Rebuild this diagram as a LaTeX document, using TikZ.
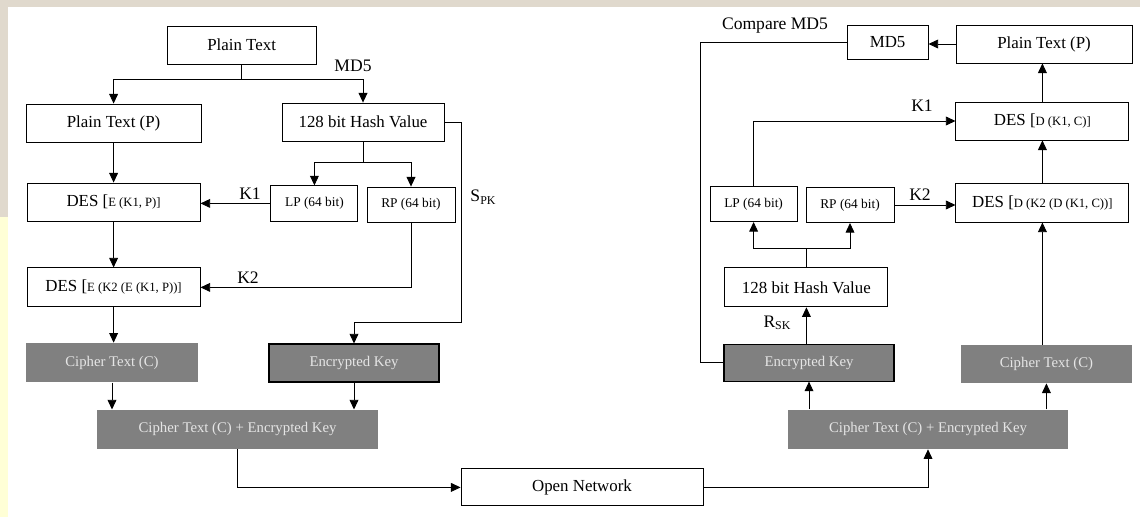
\documentclass[tikz,border=0pt]{standalone}
\usepackage{fontspec}
\setmainfont{Liberation Serif}
\usetikzlibrary{arrows.meta, positioning, calc}

\definecolor{boxgray}{RGB}{128,128,128}
\definecolor{paper}{RGB}{224,217,205}
\definecolor{pale}{RGB}{255,255,214}

\newcommand{\keyarg}[1]{{\fontsize{9}{10}\selectfont #1}}
\newcommand{\lowsub}[1]{\raisebox{-0.3ex}{\fontsize{8.5}{9}\selectfont #1}}

\begin{document}
\begin{tikzpicture}[
    block/.style={rectangle, draw, line width=0.6pt, minimum height=0.95cm, inner sep=0pt, align=center, font=\fontsize{12}{14}\selectfont},
    shaded/.style={block, draw=none, fill=boxgray, text=white!90!black, font=\fontsize{10.5}{12}\selectfont},
    keybox/.style={shaded, draw=black, line width=0.75pt},
    half/.style={block, minimum height=0.88cm, font=\fontsize{9.5}{11}\selectfont},
    tag/.style={font=\fontsize{12.5}{14}\selectfont},
    arrow/.style={-{Triangle[length=2.4mm, width=2.2mm]}, line width=0.6pt}
]

% Page
\fill[white] (0,0) rectangle (28.5,12.925);
\fill[paper] (0,12.75) rectangle (28.5,12.925);
\fill[paper] (0,7.5) rectangle (0.2,12.925);
\fill[pale] (0,0) rectangle (0.2,7.5);
\useasboundingbox (0,0) rectangle (28.5,12.925);

% Sender blocks
\node[block, minimum width=3.725cm] (plain) at (6.04, 11.8) {Plain Text};
\node[block, minimum width=4.375cm] (plainP) at (2.84, 9.85) {Plain Text (P)};
\node[block, minimum width=4.05cm] (hash) at (9.075, 9.875) {128 bit Hash Value};
\node[half, minimum width=2.175cm] (lp) at (7.86, 7.84) {LP (64 bit)};
\node[half, minimum width=2.2cm] (rp) at (10.275, 7.81) {RP (64 bit)};
\node[block, minimum width=4.325cm] (desA) at (2.84, 7.875) {DES [\keyarg{E (K1, P)]}};
\node[block, minimum width=4.325cm, minimum height=0.975cm] (desB) at (2.84, 5.74) {DES [\keyarg{E (K2 (E (K1, P))]}};
\node[shaded, minimum width=4.3cm, minimum height=0.975cm] (cipherA) at (2.8, 3.86) {Cipher Text (C)};
\node[keybox, minimum width=4.25cm] (keyA) at (8.85, 3.85) {Encrypted Key};
\node[shaded, minimum width=7.025cm, minimum height=0.975cm] (bundleA) at (5.94, 2.19) {Cipher Text (C) + Encrypted Key};

% Channel
\node[block, minimum width=6.05cm, minimum height=0.925cm] (net) at (14.55, 0.74) {Open Network};

% Receiver blocks
\node[block, minimum width=2.025cm, minimum height=0.85cm] (md5) at (22.19, 11.875) {MD5};
\node[block, minimum width=4.4cm] (plainR) at (26.1, 11.825) {Plain Text (P)};
\node[block, minimum width=4.325cm] (desC) at (26.06, 9.9) {DES [\keyarg{D (K1, C)]}};
\node[block, minimum width=4.325cm, minimum height=0.975cm] (desD) at (26.06, 7.86) {DES [\keyarg{D (K2 (D (K1, C))]}};
\node[half, minimum width=2.175cm] (lpR) at (18.84, 7.825) {LP (64 bit)};
\node[half, minimum width=2.2cm] (rpR) at (21.25, 7.8) {RP (64 bit)};
\node[block, minimum width=4.075cm, minimum height=0.975cm] (hashR) at (20.16, 5.74) {128 bit Hash Value};
\node[keybox, minimum width=4.25cm, minimum height=0.925cm] (keyR) at (20.225, 3.86) {Encrypted Key};
\node[shaded, minimum width=4.275cm] (cipherR) at (26.16, 3.825) {Cipher Text (C)};
\node[shaded, minimum width=7.0cm, minimum height=0.975cm] (bundleR) at (23.2, 2.19) {Cipher Text (C) + Encrypted Key};

% Labels
\node[tag] (mdtag) at (8.825, 11.275) {MD5};
\node[tag] (kA) at (6.25, 8.075) {K1};
\node[tag] (kB) at (6.2, 5.975) {K2};
\node[tag] (spk) at (12.075, 8.0) {S\lowsub{PK}};
\node[tag] (cmptag) at (19.375, 12.275) {Compare MD5};
\node[tag] (kC) at (23.05, 10.275) {K1};
\node[tag] (kD) at (23.0, 8.05) {K2};
\node[tag] (rsk) at (19.425, 4.85) {R\lowsub{SK}};

% Turning points
\coordinate (mdsplit) at (6.04, 10.95);
\coordinate (hashsplit) at (9.075, 8.875);
\coordinate (spkturn) at (11.525, 4.875);
\coordinate (cmpturn) at (17.5, 6.0);
\coordinate (hashRsplit) at (20.16, 6.725);

% Arrows, sender side
\draw[line width=0.6pt] (plain.south) -- (mdsplit);
\draw[arrow] (mdsplit) -| (plainP.north);
\draw[arrow] (mdsplit) -| (hash.north);
\draw[line width=0.6pt] (hash.south) -- (hashsplit);
\draw[arrow] (hashsplit) -| (lp.north);
\draw[arrow] (hashsplit) -| (rp.north);
\draw[arrow] (plainP) -- (desA);
\draw[arrow] (lp.west) -- (lp.west -| desA.east);
\draw[arrow] (desA) -- (desB);
\draw[arrow] (rp.south) |- (desB.east);
\draw[arrow] (desB) -- (cipherA.north -| desB.south);
\draw[arrow] (hash.east) -| (spkturn) -| (keyA.north);
\draw[arrow] (cipherA.south) -- (cipherA.south |- bundleA.north);
\draw[arrow] (keyA.south) -- (keyA.south |- bundleA.north);
\draw[arrow] (bundleA.south) |- (net.west);

% Arrows, receiver side
\draw[arrow] (net.east) -| (bundleR.south);
\draw[arrow] (keyR.south |- bundleR.north) -- (keyR.south);
\draw[arrow] (cipherR.south |- bundleR.north) -- (cipherR.south);
\draw[arrow] (desD.south |- cipherR.north) -- (desD.south);
\draw[arrow] (hashR.south |- keyR.north) -- (hashR.south);
\draw[line width=0.6pt] (hashR.north) -- (hashRsplit);
\draw[arrow] (hashRsplit) -| (lpR.south);
\draw[arrow] (hashRsplit) -| (rpR.south);
\draw[arrow] (lpR.north) |- (desC.west);
\draw[arrow] (rpR.east) -- (rpR.east -| desD.west);
\draw[arrow] (desD) -- (desC);
\draw[arrow] (desC.north) -- (plainR.south -| desC.north);
\draw[arrow] (plainR.west) -- (plainR.west -| md5.east);
\draw[line width=0.6pt] (md5.west) -| (cmpturn) |- (keyR.west);

\end{tikzpicture}
\end{document}
